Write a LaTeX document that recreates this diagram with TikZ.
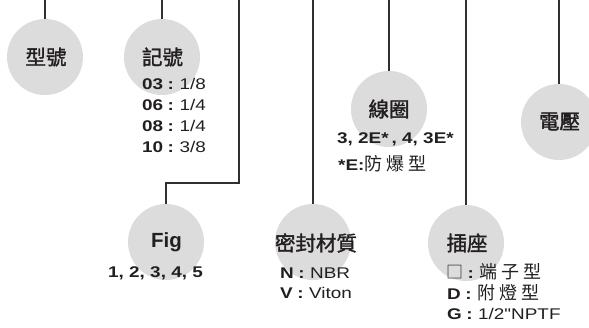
\documentclass[tikz,border=0pt]{standalone}
\usepackage{fontspec}
\setmainfont{Liberation Sans}
\newfontfamily\cjk{Noto Sans CJK TC}
\newfontfamily\cjkb[FakeBold=1.6]{Noto Sans CJK TC}
\newfontfamily\wide[FakeStretch=1.22]{Liberation Sans}
\newcommand\fcolon{\hspace{4.5pt}\textbf{:}\hspace{5.5pt}}
\definecolor{bubgray}{HTML}{DCDCDC}
\definecolor{ink}{HTML}{231F20}
\definecolor{linegray}{HTML}{303030}
\begin{document}
\begin{tikzpicture}[x=1pt,y=-1pt,
  bub/.style={circle, fill=bubgray, minimum size=76pt, inner sep=0pt},
  conn/.style={draw=linegray, line width=1.4pt},
  title/.style={font=\cjkb\fontsize{20.5}{20.5}\selectfont, text=ink, inner sep=0pt},
  lst/.style={font=\wide\fontsize{15.5}{21}\selectfont, text=ink, inner sep=0pt, anchor=base west}
]
\useasboundingbox (0,0) rectangle (589,327);
% bubbles
\node[bub] (c1) at (45,57) {};
\node[bub] (c2) at (162,57) {};
\node[bub] (c3) at (389,109) {};
\node[bub] (c4) at (559,122) {};
\node[bub] (c5) at (166,242) {};
\node[bub] (c6) at (313,242) {};
\node[bub] (c7) at (466,243) {};
% connectors
\coordinate (t1) at (45,0);
\coordinate (t2) at (162,0);
\coordinate (t3) at (389,0);
\coordinate (t4) at (559,0);
\coordinate (t5) at (239,0);
\coordinate (k5) at (166,183);
\coordinate (t6) at (313,0);
\coordinate (t7) at (466,0);
\draw[conn] (t1) -- (c1.north);
\draw[conn] (t2) -- (c2.north);
\draw[conn] (t3) -- (c3.north);
\draw[conn] (t4) -- (c4.north);
\draw[conn] (t5) |- (k5) -- (c5.north);
\draw[conn] (t6) -- (c6.north);
\draw[conn] (t7) -- (c7.north);
% titles
\node[title] (l1) at (46,57) {型號};
\node[title] (l2) at (162.5,57) {記號};
\node[title] (l3) at (389,109) {線圈};
\node[title] (l4) at (559.5,121.5) {電壓};
\node[inner sep=0pt, anchor=base, text=ink, font=\bfseries\fontsize{20.5}{20.5}\selectfont] (l5) at (166.5,247) {Fig};
\node[title] (l6) at (316,243) {密封材質};
\node[title] (l7) at (467,243) {插座};
% lists
\node[lst] (a1) at (142,89) {\textbf{03}\fcolon 1/8};
\node[lst] (a2) at (142,110) {\textbf{06}\fcolon 1/4};
\node[lst] (a3) at (142,131) {\textbf{08}\fcolon 1/4};
\node[lst] (a4) at (142,152) {\textbf{10}\fcolon 3/8};
\node[lst] (b1) at (337,143) {\textbf{3, 2E*\hspace{3pt}, 4, 3E*}};
\node[lst] (b2) at (338,170) {\textbf{*E:}{\cjk\fontsize{18}{18}\selectfont 防\hspace{4pt}爆\hspace{4pt}型}};
\node[lst] (f1) at (108,277) {\textbf{1, 2, 3, 4, 5}};
\node[lst] (s1) at (280,278) {\textbf{N}\fcolon NBR};
\node[lst] (s2) at (280,298) {\textbf{V}\fcolon Viton};
\node[lst] (p1) at (446,278) {{\cjk\fontsize{17}{17}\selectfont □}\fcolon{\cjk\fontsize{18}{18}\selectfont 端\hspace{4pt}子\hspace{4pt}型}};
\node[lst] (p2) at (447,299) {\textbf{D}\fcolon{\cjk\fontsize{18}{18}\selectfont 附\hspace{4pt}燈\hspace{4pt}型}};
\node[lst] (p3) at (447,319) {\textbf{G}\fcolon 1/2"NPTF};
\end{tikzpicture}
\end{document}
